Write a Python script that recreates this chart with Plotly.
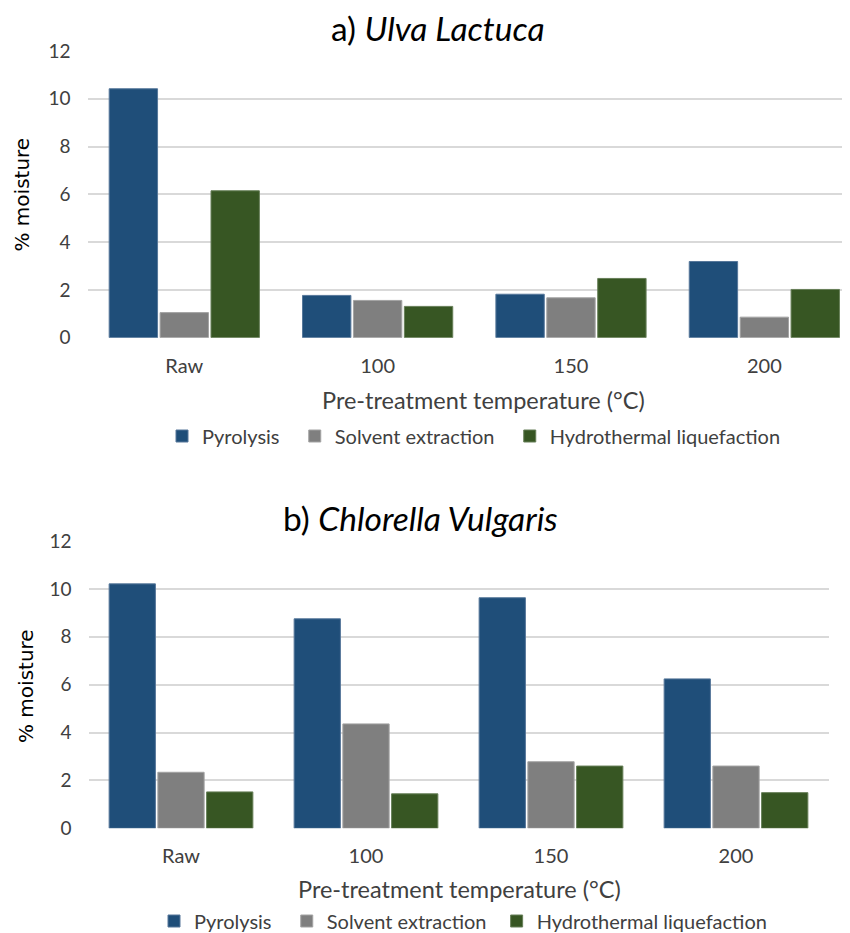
import plotly.graph_objects as go

categories = ["Raw", "100", "150", "200"]
series_names = ["Pyrolysis", "Solvent extraction", "Hydrothermal liquefaction"]

ulva_pyrolysis = [10.42, 1.77, 1.82, 3.19]
ulva_solvent = [1.05, 1.56, 1.67, 0.86]
ulva_htl = [6.15, 1.31, 2.48, 2.02]

chlorella_pyrolysis = [10.21, 8.75, 9.63, 6.24]
chlorella_solvent = [2.34, 4.36, 2.78, 2.60]
chlorella_htl = [1.52, 1.44, 2.60, 1.49]

colors = ["#1F4E79", "#7F7F7F", "#375623"]
edge_colors = ["#56779A", "#A3A3A3", "#677F58"]
# non-breaking spaces only widen the gap between legend entries
legend_pad_top = ["\u00a0\u00a0", "\u00a0\u00a0", ""]
legend_pad_bottom = ["\u00a0\u00a0", "\u00a0", ""]

# page has an 8px body margin: the figure is placed at (8, 8) in the 850x933 window
OFF = 8
W, H = 850 - OFF, 933 - OFF
FONT = "Lato, Open Sans, sans-serif"

fig = go.Figure()

for vals, name, col, ec, pad in zip([ulva_pyrolysis, ulva_solvent, ulva_htl], series_names, colors, edge_colors, legend_pad_top):
    fig.add_trace(go.Bar(x=categories, y=vals, name=name + pad,
                         marker=dict(color=col, line=dict(width=1, color=ec)),
                         xaxis="x", yaxis="y", legend="legend"))
for vals, name, col, ec, pad in zip([chlorella_pyrolysis, chlorella_solvent, chlorella_htl], series_names, colors, edge_colors, legend_pad_bottom):
    fig.add_trace(go.Bar(x=categories, y=vals, name=name + pad,
                         marker=dict(color=col, line=dict(width=1, color=ec)),
                         xaxis="x2", yaxis="y2", legend="legend2"))

def px_x(p):
    return (p - OFF) / W

def px_y(p):
    return (H - (p - OFF)) / H

yaxis_common = dict(range=[0, 12], dtick=2, tick0=0, showgrid=True, gridcolor="#D9D9D9", gridwidth=1.5,
                    zeroline=False, showline=False, ticks="", ticklabelstandoff=16, automargin=False,
                    tickfont=dict(family=FONT, size=19, color="#404040"), fixedrange=True)
xaxis_common = dict(type="category", showgrid=False, zeroline=False, showline=False, ticks="",
                    automargin=False, ticklabelstandoff=14, tickfont=dict(family=FONT, size=20, color="#404040"))

fig.update_layout(
    width=W, height=H,
    margin=dict(l=0, r=0, t=0, b=0, autoexpand=False),
    paper_bgcolor="white", plot_bgcolor="white",
    barmode="group", bargap=0.21, bargroupgap=0.05,
    xaxis=dict(domain=[px_x(87.6), 1.0], range=[-0.5, 3.443], anchor="y", **xaxis_common),
    yaxis=dict(domain=[px_y(337.7), px_y(51)], anchor="x", **yaxis_common),
    xaxis2=dict(domain=[px_x(88.5), px_x(828.5)], range=[-0.5, 3.5], anchor="y2", **xaxis_common),
    yaxis2=dict(domain=[px_y(828.3), px_y(541)], anchor="x2", **yaxis_common),
    legend=dict(orientation="h", x=px_x(162), y=px_y(436), xanchor="left", yanchor="middle",
                font=dict(family=FONT, size=20, color="#404040"), itemwidth=30, traceorder="normal",
                bgcolor="rgba(0,0,0,0)"),
    legend2=dict(orientation="h", x=px_x(154), y=px_y(921), xanchor="left", yanchor="middle",
                 font=dict(family=FONT, size=20, color="#404040"), itemwidth=30, traceorder="normal",
                 bgcolor="rgba(0,0,0,0)"),
    showlegend=True,
)

annos = [
    dict(text="a) <i>Ulva Lactuca</i>", x=px_x(437.5), y=px_y(28), size=33.5, color="#000000"),
    dict(text="b) <i>Chlorella Vulgaris</i>", x=px_x(420), y=px_y(518), size=33.5, color="#000000"),
    dict(text="Pre-treatment temperature (°C)", x=px_x(483.5), y=px_y(400), size=23.5, color="#404040"),
    dict(text="Pre-treatment temperature (°C)", x=px_x(459), y=px_y(889), size=23.5, color="#404040"),
]
for a in annos:
    fig.add_annotation(text=a["text"], x=a["x"], y=a["y"], xref="paper", yref="paper",
                       xanchor="center", yanchor="middle", showarrow=False,
                       font=dict(family=FONT, size=a["size"], color=a["color"]))

for xc, yc in [(21, 194.5), (26, 686)]:
    fig.add_annotation(text="% moisture", x=px_x(xc), y=px_y(yc), xref="paper", yref="paper",
                       xanchor="center", yanchor="middle", showarrow=False, textangle=-90,
                       font=dict(family="DejaVu Sans, Verdana, sans-serif", size=20, color="#000000"))

fig.write_html("out.html")
